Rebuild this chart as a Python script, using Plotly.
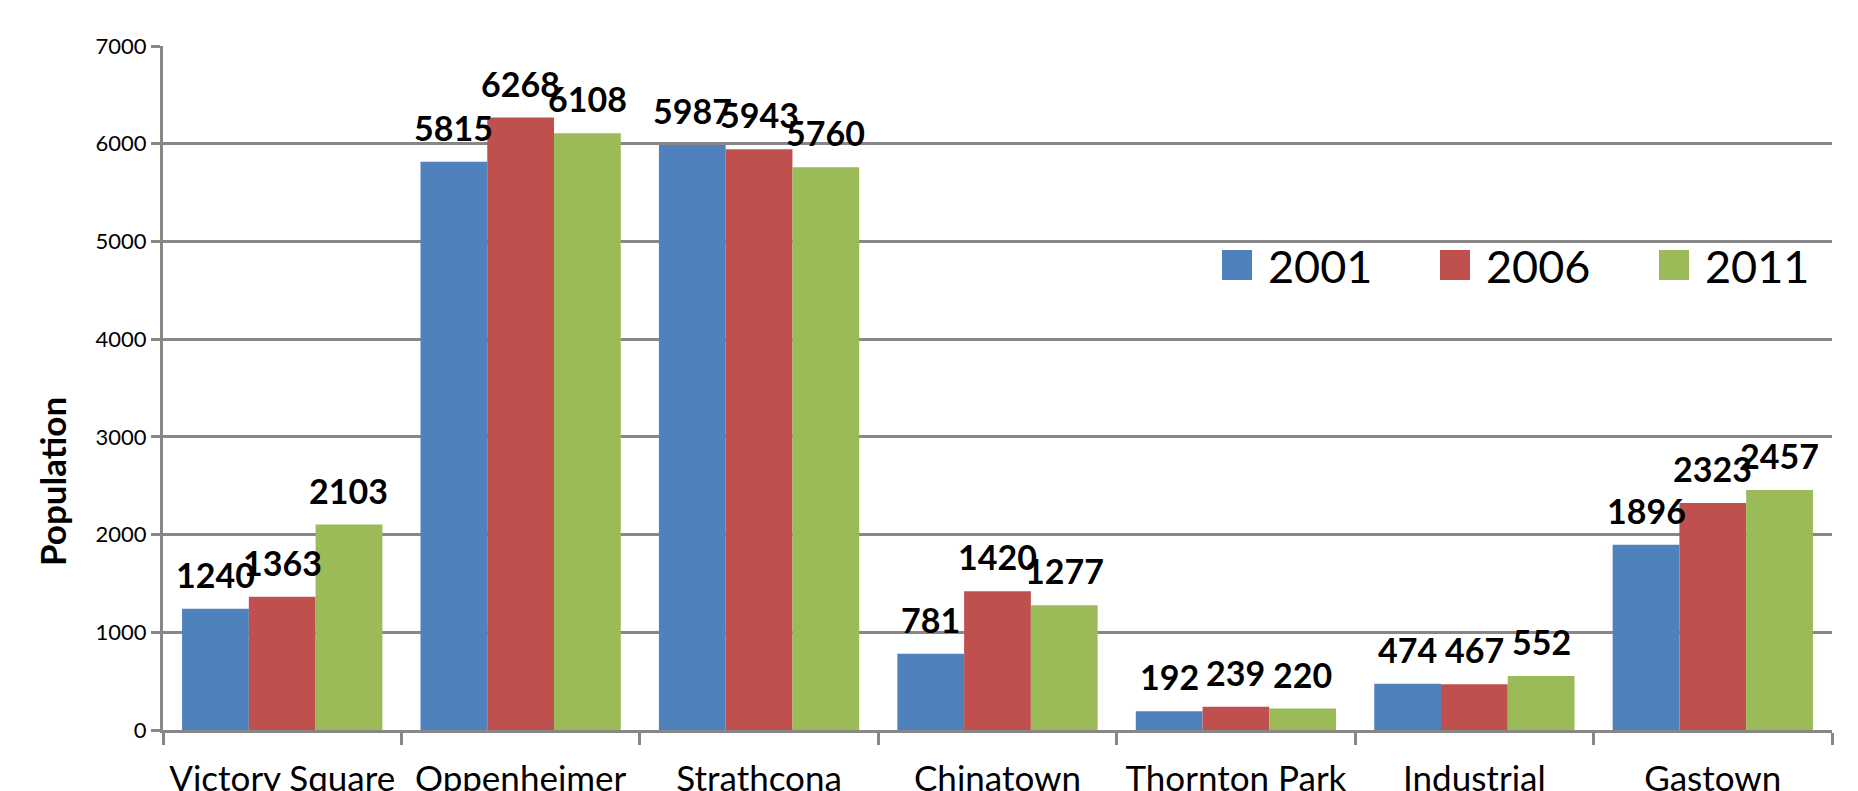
import plotly.graph_objects as go

categories = ["Victory Square", "Oppenheimer", "Strathcona", "Chinatown",
              "Thornton Park", "Industrial", "Gastown"]
years = ["2001", "2006", "2011"]
pop_2001 = [1240, 5815, 5987, 781, 192, 474, 1896]
pop_2006 = [1363, 6268, 5943, 1420, 239, 467, 2323]
pop_2011 = [2103, 6108, 5760, 1277, 220, 552, 2457]
series = [pop_2001, pop_2006, pop_2011]
colors = ["#4F81BD", "#C0504D", "#9BBB59"]
y_ticks = [0, 1000, 2000, 3000, 4000, 5000, 6000, 7000]

FONT = "Lato, 'Open Sans', sans-serif"
GRID = "#878787"
BARGAP = 0.16

W, H = 1858, 791
ML, MR, MT, MB = 163, 26, 46, 61
PW, PH = W - ML - MR, H - MT - MB


def px_x(p):
    return (p - ML) / PW


def px_y(p):
    return (H - MB - p) / PH


fig = go.Figure()
for name, vals, col in zip(years, series, colors):
    fig.add_trace(go.Bar(
        x=categories, y=vals, name=name,
        marker=dict(color=col, line=dict(width=0)),
        showlegend=False, cliponaxis=False,
    ))

# value labels above each bar
bw = (1 - BARGAP) / len(series)
annotations = []
for j, vals in enumerate(series):
    off = (j - (len(series) - 1) / 2) * bw
    for i, v in enumerate(vals):
        annotations.append(dict(
            x=i + off, y=v, xref="x", yref="y", text=str(v),
            showarrow=False, yanchor="bottom", yshift=12,
            font=dict(family=FONT, size=34, color="black", weight="bold"),
        ))

# y-axis title
annotations.append(dict(
    x=px_x(52), y=px_y(481), xref="paper", yref="paper", text="Population",
    textangle=-90, showarrow=False, xanchor="center", yanchor="middle",
    font=dict(family=FONT, size=35, color="black", weight="bold"),
))

# custom legend (pixel layout converted to paper coords)
shapes = []
leg_left = [1222, 1440, 1659]
for name, col, lx in zip(years, colors, leg_left):
    shapes.append(dict(type="rect", xref="paper", yref="paper",
                       x0=px_x(lx), x1=px_x(lx + 30), y0=px_y(280), y1=px_y(250),
                       fillcolor=col, line=dict(width=0)))
    annotations.append(dict(
        x=px_x(lx + 44), y=px_y(266), xref="paper", yref="paper", text=name,
        showarrow=False, xanchor="left", yanchor="middle",
        font=dict(family=FONT, size=45, color="black"),
    ))

fig.update_layout(
    width=W, height=H,
    margin=dict(l=ML, r=MR, t=MT, b=MB),
    plot_bgcolor="white", paper_bgcolor="white",
    barmode="group", bargap=BARGAP, bargroupgap=0,
    annotations=annotations, shapes=shapes,
    font=dict(family=FONT, color="black"),
    showlegend=False,
)
fig.update_yaxes(
    range=[0, 7000], tickvals=y_ticks, automargin=False,
    showgrid=True, gridcolor=GRID, gridwidth=3,
    showline=True, linecolor=GRID, linewidth=3,
    ticks="outside", ticklen=9, tickcolor=GRID, tickwidth=3,
    tickfont=dict(family=FONT, size=22, color="black"),
    zeroline=False,
)
fig.update_xaxes(
    automargin=False,
    showline=True, linecolor=GRID, linewidth=3,
    ticks="outside", ticklen=12, tickcolor=GRID, tickwidth=3,
    tickson="boundaries", showgrid=False,
    ticklabelstandoff=16,
    tickfont=dict(family=FONT, size=35, color="black"),
)

fig.write_html(
    "out.html",
    config={"displayModeBar": False},
    post_script="document.body.style.margin='0';document.body.style.overflow='hidden';",
)
